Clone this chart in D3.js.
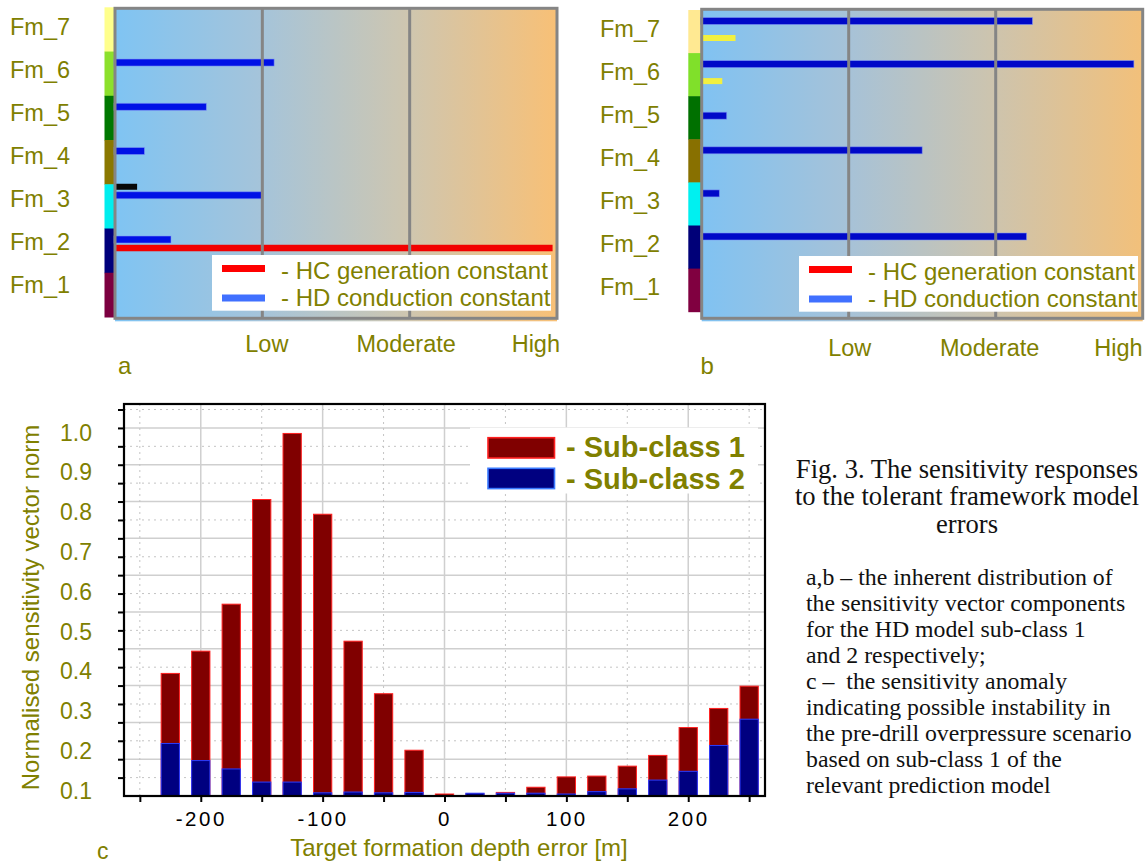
<!DOCTYPE html>
<html><head><meta charset="utf-8">
<script src="https://cdn.jsdelivr.net/npm/d3@7"></script>
<style>
body{margin:0;background:#fff}
svg{display:block}
text{white-space:pre}
</style>
</head><body>
<svg id="fig" width="1147" height="866"></svg>
<script>
// ---------------- DATA ----------------
const formations = ["Fm_7","Fm_6","Fm_5","Fm_4","Fm_3","Fm_2","Fm_1"];
const levelLabels = ["Low","Moderate","High"];
const levelValues = [1,2,3];
const legendLabelsAB = ["- HC generation constant","- HD conduction constant"];
const legendParamsAB = ["HC","HD"];
// lane = sub-row inside a formation band (category)
const panelABars = [
  {fm:"Fm_6", param:"HD",  lane:1, value:1.08},
  {fm:"Fm_5", param:"HD",  lane:1, value:0.62},
  {fm:"Fm_4", param:"HD",  lane:1, value:0.20},
  {fm:"Fm_3", param:"AUX", lane:0, value:0.15},
  {fm:"Fm_3", param:"HD",  lane:1, value:1.00},
  {fm:"Fm_2", param:"HD",  lane:1, value:0.38},
  {fm:"Fm_2", param:"HC",  lane:2, value:2.97}
];
const panelBBars = [
  {fm:"Fm_7", param:"HD",   lane:1, value:2.25},
  {fm:"Fm_7", param:"AUX2", lane:3, value:0.23},
  {fm:"Fm_6", param:"HD",   lane:1, value:2.94},
  {fm:"Fm_6", param:"AUX2", lane:3, value:0.14},
  {fm:"Fm_5", param:"HD",   lane:2, value:0.17},
  {fm:"Fm_4", param:"HD",   lane:1, value:1.50},
  {fm:"Fm_3", param:"HD",   lane:1, value:0.12},
  {fm:"Fm_2", param:"HD",   lane:1, value:2.21}
];

const depthErrors = [-225,-200,-175,-150,-125,-100,-75,-50,-25,0,25,50,75,100,125,150,175,200,225,250];
const subClass1 = [0.393,0.449,0.567,0.830,0.996,0.793,0.474,0.342,0.200,0.090,0.090,0.094,0.107,0.133,0.135,0.160,0.187,0.257,0.305,0.361];
const subClass2 = [0.217,0.174,0.153,0.120,0.120,0.093,0.095,0.093,0.094,0.085,0.092,0.092,0.092,0.090,0.096,0.103,0.125,0.147,0.212,0.278];
const yTickValues = [1.0,0.9,0.8,0.7,0.6,0.5,0.4,0.3,0.2,0.1];
const yTickLabels = ["1.0","0.9","0.8","0.7","0.6","0.5","0.4","0.3","0.2","0.1"];
const xTickValues = [-200,-100,0,100,200];
const xTickLabels = ["-200","-100","0","100","200"];
const legendLabelsC = ["- Sub-class 1","- Sub-class 2"];
const yTitle = "Normalised sensitivity vector norm";
const xTitle = "Target formation depth error [m]";

const captionTitle = ["Fig. 3. The sensitivity responses","to the tolerant framework model","errors"];
const captionBody = ["a,b \u2013 the inherent distribution of","the sensitivity vector components","for the HD model sub-class 1","and 2 respectively;","c \u2013  the sensitivity anomaly","indicating possible instability in","the pre-drill overpressure scenario","based on sub-class 1 of the","relevant prediction model"];

// ---------------- STYLE ----------------
const OLIVE = "#808000";
const SANS = "'Liberation Sans', Arial, sans-serif";
const SERIF = "'Liberation Serif', 'Times New Roman', serif";

const svg = d3.select("#fig");
svg.append("rect").attr("width",1147).attr("height",866).attr("fill","#fff");
const defs = svg.append("defs");

// ---------------- PANELS a / b ----------------
function drawAB(cfg){
  const g = svg.append("g");
  const gid = "grad_"+cfg.name;
  const grad = defs.append("linearGradient").attr("id",gid).attr("x1","0").attr("x2","1").attr("y1","0").attr("y2","0");
  cfg.grad.forEach(s=>grad.append("stop").attr("offset",s[0]).attr("stop-color",s[1]));

  const x = d3.scaleLinear().domain([0,3]).range([cfg.left,cfg.right]);
  const band = d3.scaleBand().domain(formations).range([cfg.stripTop,cfg.stripBottom]);
  const lane = d3.scaleLinear().domain([0,3]).range([2.5,28]);
  const labelY = d3.scalePoint().domain(formations).range(cfg.labelRange);

  // gradient background
  g.append("rect").attr("x",cfg.left).attr("y",cfg.top).attr("width",cfg.right-cfg.left).attr("height",cfg.bottom-cfg.top+3)
    .attr("fill",`url(#${gid})`);

  // formation colour strip
  g.selectAll(".strip").data(formations).join("rect")
    .attr("x",cfg.stripX).attr("width",cfg.left-cfg.stripX)
    .attr("y",d=>band(d)).attr("height",band.bandwidth()+0.5)
    .attr("fill",(d,i)=>cfg.stripColors[i]);

  // bars
  const colors = {HD:cfg.hdColor, HC:"#f20000", AUX:"#080808", AUX2:"#f2f040"};
  const thick = {HD:7, HC:6.5, AUX:6, AUX2:6};
  g.selectAll(".bar").data(cfg.bars).join("rect")
    .attr("x",x(0)-1)
    .attr("width",d=>x(d.value)-x(0)+1)
    .attr("y",d=>band(d.fm)+lane(d.lane)-thick[d.param]/2)
    .attr("height",d=>thick[d.param])
    .attr("fill",d=>colors[d.param])
    .attr("stroke",d=>d.param==="HD"?"#7f95f5":"none").attr("stroke-width",0.8).attr("stroke-opacity",0.7);

  // grid lines (drawn over bars)
  g.selectAll(".vg").data([1,2]).join("line")
    .attr("x1",d=>x(d)).attr("x2",d=>x(d)).attr("y1",cfg.top).attr("y2",cfg.bottom)
    .attr("stroke","#858585").attr("stroke-width",3);

  // frame
  g.append("rect").attr("x",cfg.left).attr("y",cfg.top).attr("width",cfg.right-cfg.left).attr("height",cfg.bottom-cfg.top)
    .attr("fill","none").attr("stroke","#858585").attr("stroke-width",3);

  // legend
  const lg = g.append("g");
  const bx = cfg.right-cfg.legendRightGap-339, by = cfg.bottom-cfg.legendBottomGap-55.7;
  lg.append("rect").attr("x",bx).attr("y",by).attr("width",339).attr("height",55.7).attr("fill","#fff");
  const legColors = {HC:"#ff0000", HD:"#4070ff"};
  legendLabelsAB.forEach((lab,i)=>{
    const cy = by + (i===0?13.5:43);
    lg.append("rect").attr("x",bx+10).attr("y",cy-3.5).attr("width",43).attr("height",7).attr("fill",legColors[legendParamsAB[i]]);
    lg.append("text").attr("x",bx+69).attr("y",by+(i===0?23.5:51)).text(lab)
      .attr("font-family",SANS).attr("font-size",24).attr("fill",OLIVE);
  });

  // formation labels
  g.selectAll(".fml").data(formations).join("text")
    .attr("x",cfg.labelX).attr("y",d=>labelY(d)).text(d=>d)
    .attr("font-family",SANS).attr("font-size",23.5).attr("fill",OLIVE);

  // level labels
  g.selectAll(".lvl").data(levelValues).join("text")
    .attr("x",d=>d===3?x(d)+cfg.highShift:x(d)+(d===1?cfg.lowShift:cfg.modShift))
    .attr("y",cfg.levelY)
    .attr("text-anchor",d=>d===3?"end":"middle")
    .text((d,i)=>levelLabels[i])
    .attr("font-family",SANS).attr("font-size",23.5).attr("fill",OLIVE);

  // panel letter
  g.append("text").attr("x",cfg.letterX).attr("y",373.5).text(cfg.name)
    .attr("font-family",SANS).attr("font-size",24).attr("fill",OLIVE);
}

drawAB({
  name:"a", left:115, right:557, top:8.3, bottom:318.3,
  stripX:104.5, stripTop:7.3, stripBottom:317,
  labelX:10, labelRange:[35,292.7],
  stripColors:["#ffff8c","#8ce02c","#007800","#8a7800","#00eeee","#00007c","#7c0040"],
  grad:[[0,"#7fc4f3"],[0.33,"#a5c4da"],[0.66,"#cec6b0"],[1,"#f8c076"]],
  hdColor:"#0010e6",
  bars:panelABars,
  legendRightGap:6, legendBottomGap:7.6,
  levelY:351.7, lowShift:4.5, modShift:-3.5, highShift:3,
  letterX:118
});
drawAB({
  name:"b", left:701.7, right:1142.7, top:9.3, bottom:318.3,
  stripX:688.3, stripTop:10, stripBottom:311.7,
  labelX:600, labelRange:[37.3,295],
  stripColors:["#ffe992","#80e02a","#007000","#887000","#00f0f0","#000078","#800040"],
  grad:[[0,"#80c2f2"],[0.33,"#a6c2d8"],[0.66,"#cdc4ae"],[1,"#f2c07a"]],
  hdColor:"#0008c8",
  bars:panelBBars,
  legendRightGap:4.7, legendBottomGap:6.6,
  levelY:356, lowShift:1, modShift:-6, highShift:0,
  letterX:700.6
});

// ---------------- PANEL c ----------------
const cL=124, cR=765, cT=404, cB=796;
const gc = svg.append("g");
const x = d3.scaleLinear().domain([-263,263]).range([cL,cR]);
const y = d3.scaleLinear().domain([0.085,1.07]).range([cB,cT]);      // value scale (labels)
const gy = d3.scaleLinear().domain([0,1.065]).range([cB,cT]);        // grid/tick scale
const yBase = 0.085;

const hMajor = d3.range(1,11).map(i=>i/10);
const hMinor = d3.range(0,11).map(i=>i/10+0.05);
const vMajor = [-200,-100,0,100,200];
const vMinor = [-250,-150,-50,50,150,250];

gc.selectAll(".hmaj").data(hMajor).join("line")
  .attr("x1",cL).attr("x2",cR).attr("y1",d=>gy(d)).attr("y2",d=>gy(d))
  .attr("stroke","#cfcfcf").attr("stroke-width",1.5);
gc.selectAll(".hmin").data(hMinor).join("line")
  .attr("x1",cL).attr("x2",cR).attr("y1",d=>gy(d)).attr("y2",d=>gy(d))
  .attr("stroke","#c4c4c4").attr("stroke-width",1).attr("stroke-dasharray","2,4");
gc.selectAll(".vmaj").data(vMajor).join("line")
  .attr("y1",cT).attr("y2",cB).attr("x1",d=>x(d)).attr("x2",d=>x(d))
  .attr("stroke","#cfcfcf").attr("stroke-width",1.5);
gc.selectAll(".vmin").data(vMinor).join("line")
  .attr("y1",cT).attr("y2",cB).attr("x1",d=>x(d)).attr("x2",d=>x(d))
  .attr("stroke","#c4c4c4").attr("stroke-width",1).attr("stroke-dasharray","2,4");

// legend background (hides grid)
gc.append("rect").attr("x",470).attr("y",427.5).attr("width",288).attr("height",66).attr("fill","#fff");

// bars
const bw = 15;
const barData = depthErrors.map((d,i)=>({x:d, s1:subClass1[i], s2:subClass2[i]}));
gc.selectAll(".b1").data(barData).join("rect")
  .attr("x",d=>x(d.x-bw/2)).attr("width",x(bw)-x(0))
  .attr("y",d=>y(d.s1)).attr("height",d=>Math.max(0,y(yBase)-y(d.s1)))
  .attr("fill","#800000").attr("stroke","#ff2020").attr("stroke-width",1);
gc.selectAll(".b2").data(barData.filter(d=>d.s2>yBase)).join("rect")
  .attr("x",d=>x(d.x-bw/2)).attr("width",x(bw)-x(0))
  .attr("y",d=>y(d.s2)).attr("height",d=>Math.max(0,y(yBase)-y(d.s2)))
  .attr("fill","#000080").attr("stroke","#2a3cff").attr("stroke-width",1);

// legend
const legC = [{fill:"#800000",stroke:"#ff2020"},{fill:"#000080",stroke:"#3a7aff"}];
legendLabelsC.forEach((lab,i)=>{
  const ty = 437.7 + i*30.6;
  gc.append("rect").attr("x",488).attr("y",ty).attr("width",66.5).attr("height",20.3)
    .attr("fill",legC[i].fill).attr("stroke",legC[i].stroke).attr("stroke-width",1.6);
  gc.append("text").attr("x",566).attr("y",457+i*31.5).text(lab)
    .attr("font-family",SANS).attr("font-weight","bold").attr("font-size",29).attr("fill",OLIVE);
});

// axes ticks
const yTickAxis = d3.axisLeft(gy).tickValues(hMajor.concat(hMinor).filter(v=>v<1.06)).tickSize(6).tickFormat("");
const ga = gc.append("g").attr("transform",`translate(${cL},0)`).call(yTickAxis);
ga.select(".domain").remove();
ga.selectAll("line").attr("stroke","#000").attr("stroke-width",2);

const xTickAxis = d3.axisBottom(x).tickValues(d3.range(-250,251,50)).tickSize(6)
  .tickFormat(d=>{const k=xTickValues.indexOf(d);return k>=0?xTickLabels[k]:"";}).tickPadding(9);
const gx = gc.append("g").attr("transform",`translate(0,${cB})`).call(xTickAxis);
gx.select(".domain").remove();
gx.selectAll("line").attr("stroke","#000").attr("stroke-width",2);
gx.selectAll("text").attr("font-family",SANS).attr("font-size",20.5).attr("fill","#000")
  .attr("letter-spacing","2.5px").attr("dy","0.71em");

// y value labels
const yLabAxis = d3.axisLeft(y).tickValues(yTickValues).tickSize(0).tickPadding(32)
  .tickFormat(d=>yTickLabels[yTickValues.indexOf(d)]);
const gyl = gc.append("g").attr("transform",`translate(${cL},0)`).call(yLabAxis);
gyl.select(".domain").remove();
gyl.selectAll("text").attr("font-family",SANS).attr("font-size",23).attr("fill",OLIVE).attr("dy","0.36em");

// frame
gc.append("rect").attr("x",cL).attr("y",cT).attr("width",cR-cL).attr("height",cB-cT)
  .attr("fill","none").attr("stroke","#000").attr("stroke-width",2.2);

// titles
gc.append("text").attr("transform",`translate(38.5,${(425+790)/2}) rotate(-90)`)
  .attr("text-anchor","middle").text(yTitle)
  .attr("font-family",SANS).attr("font-size",24).attr("fill",OLIVE);
gc.append("text").attr("x",459).attr("y",856).attr("text-anchor","middle").text(xTitle)
  .attr("font-family",SANS).attr("font-size",24).attr("fill",OLIVE);
gc.append("text").attr("x",97).attr("y",859).text("c")
  .attr("font-family",SANS).attr("font-size",23).attr("fill",OLIVE);

// ---------------- CAPTION ----------------
const cap = svg.append("g").attr("font-family",SERIF).attr("fill","#111");
captionTitle.forEach((t,i)=>cap.append("text").attr("x",967).attr("y",477.5+i*27.5)
  .attr("text-anchor","middle").attr("font-size",26.6).text(t));
captionBody.forEach((t,i)=>cap.append("text").attr("x",806).attr("y",585+i*26)
  .attr("font-size",23.8).text(t));
</script>
</body></html>
